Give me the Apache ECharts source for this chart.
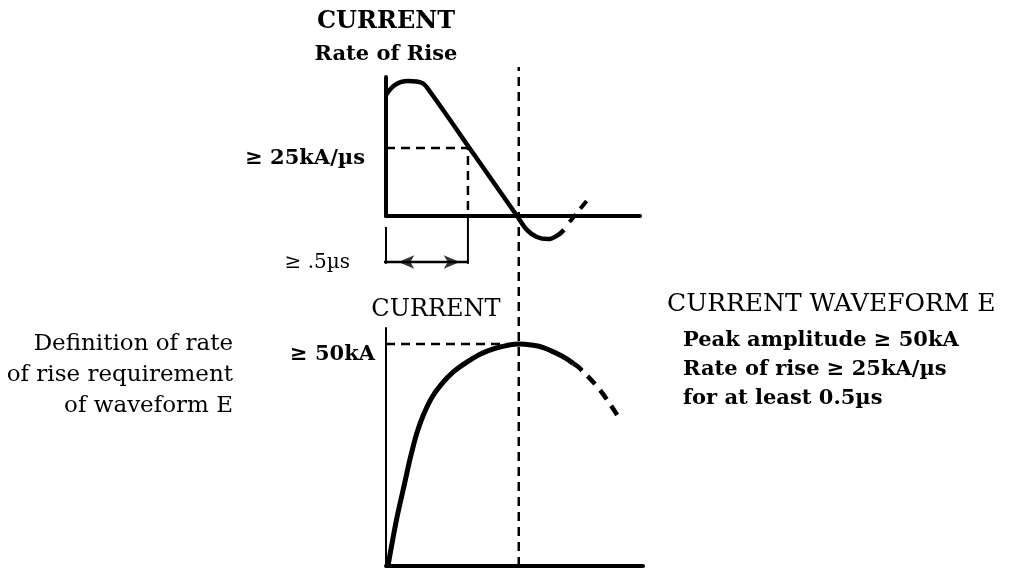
<!DOCTYPE html>
<html><head><meta charset="utf-8">
<script src="https://cdn.jsdelivr.net/npm/echarts@6/dist/echarts.min.js"></script>
<style>html,body{margin:0;padding:0;background:#fff}#c{width:1012px;height:570px}</style>
</head><body><div id="c"></div>
<script>
// ---- data (time in µs) ----
const rateCurve = [[0,44.5],[0.055,48.2],[0.134,49.6],[0.22,48.9],[0.27,45.6],[0.535,22.8],[0.8,0],[0.86,-5.1],[0.92,-7.7],[0.99,-8.5],[1.05,-7.0],[1.086,-5.1]];
const rateTail = [[1.12,-2.2],[1.245,7.0]];
const currentCurve = [[0.012,0],[0.065,10.6],[0.116,19.0],[0.146,24.0],[0.187,29.8],[0.228,34.0],[0.279,37.9],[0.34,41.0],[0.411,43.7],[0.493,45.9],[0.574,47.7],[0.665,49.0],[0.757,49.8],[0.81,50],[0.899,49.7],[0.96,49.2],[1.04,47.9],[1.10,46.7],[1.143,45.6]];
const currentTail = [[1.143,45.6],[1.18,44.6],[1.306,39.6],[1.41,34.0]];
const rateThreshold = 25;      // kA/µs
const minDuration = 0.5;       // µs
const peakAmp = 50;            // kA
const peakTime = 0.81;         // µs
const rateTickLabels = {25: '≥ 25kA/µs'};
const currentTickLabels = {50: '≥ 50kA'};
const durationLabel = '≥ .5µs';

const SERIF = '"DejaVu Serif", "Liberation Serif", serif';
const chart = echarts.init(document.getElementById('c'), null, {renderer: 'canvas'});
const dimY = -16.9, extY = -17.6, extTop = -4.0, vTop = 112.4, leadX = -0.19;

const dash = {color: '#000', width: 2.5, type: [9, 6]};
function line(name, data, gi, ls, extra) {
  return Object.assign({name, type: 'line', data, xAxisIndex: gi, yAxisIndex: gi, symbol: 'none',
    clip: false, silent: true, lineStyle: ls, animation: false, z: 3}, extra || {});
}
function axes(gi, xmax, ymax, lw, ylw, labels, margin) {
  return {
    x: {gridIndex: gi, type: 'value', min: 0, max: xmax, splitLine: {show: false},
        axisTick: {show: false}, axisLabel: {show: false},
        axisLine: {show: true, onZero: false, lineStyle: {color: '#000', width: lw}}},
    y: {gridIndex: gi, type: 'value', min: 0, max: ymax, interval: 25, splitLine: {show: false},
        axisTick: {show: false},
        axisLine: {show: true, onZero: false, lineStyle: {color: '#000', width: ylw}},
        axisLabel: {show: true, margin: margin, color: '#000', fontFamily: SERIF, fontWeight: 'bold', fontSize: 21,
          verticalAlign: 'top', showMinLabel: true, showMaxLabel: true,
          formatter: v => labels[v] || ''}}
  };
}
const a0 = axes(0, 1.55, 51.1, 4, 4, rateTickLabels, 21);
const a1 = axes(1, 1.568, 53.6, 4, 2, currentTickLabels, 11);

chart.setOption({
  backgroundColor: '#fff',
  animation: false,
  grid: [
    {left: 386, top: 77, width: 254, height: 139},
    {left: 386, top: 328, width: 257, height: 238}
  ],
  xAxis: [a0.x, a1.x],
  yAxis: [a0.y, a1.y],
  series: [
    line('rate', rateCurve, 0, {color: '#000', width: 4.5}, {smooth: 0.35}),
    line('rateTail', rateTail, 0, {color: '#000', width: 4, type: [10, 7]}),
    line('rateThreshold', [[0, rateThreshold], [minDuration, rateThreshold], [minDuration, 0]], 0, dash),
    line('durExt', [[minDuration, 0], [minDuration, extY]], 0, {color: '#000', width: 2}),
    line('durExtL', [[0, extTop], [0, extY]], 0, {color: '#000', width: 2}),
    line('durLead', [[leadX, dimY], [minDuration, dimY]], 0, {color: '#000', width: 2.5}),
    {name: 'arrows', type: 'scatter', xAxisIndex: 0, yAxisIndex: 0, clip: false, silent: true, animation: false,
      symbol: 'arrow', symbolSize: [10, 16], itemStyle: {color: '#000'}, z: 4,
      data: [{value: [0.075, dimY], symbolRotate: 90}, {value: [minDuration - 0.05, dimY], symbolRotate: -90}]},
    line('current', currentCurve, 1, {color: '#000', width: 5}, {smooth: 0.3}),
    line('currentTail', currentTail, 1, {color: '#000', width: 4.5, type: [11, 8]}, {smooth: 0.4}),
    line('peakLevel', [[0, peakAmp], [peakTime, peakAmp]], 1, dash),
    line('peakTime', [[peakTime, 0], [peakTime, vTop]], 1, dash)
  ],
  graphic: [
    {type: 'text', x: 386, y: 22, style: {text: 'CURRENT', font: 'bold 24px ' + SERIF, fill: '#000', textAlign: 'center', textVerticalAlign: 'middle'}},
    {type: 'text', x: 386, y: 55, style: {text: 'Rate of Rise', font: 'bold 21px ' + SERIF, fill: '#000', textAlign: 'center', textVerticalAlign: 'middle'}},
    {type: 'text', x: 350, y: 263, style: {text: durationLabel, font: '20px ' + SERIF, fill: '#000', textAlign: 'right', textVerticalAlign: 'middle'}},
    {type: 'text', x: 436, y: 310, style: {text: 'CURRENT', font: '24px ' + SERIF, fill: '#000', textAlign: 'center', textVerticalAlign: 'middle'}},
    {type: 'text', x: 233, y: 329, style: {text: 'Definition of rate\nof rise requirement\nof waveform E', font: '23px ' + SERIF, lineHeight: 31, fill: '#000', textAlign: 'right', textVerticalAlign: 'top'}},
    {type: 'text', x: 667, y: 304, style: {text: 'CURRENT WAVEFORM E', font: '25px ' + SERIF, fill: '#000', textAlign: 'left', textVerticalAlign: 'middle'}},
    {type: 'text', x: 683, y: 326, style: {text: 'Peak amplitude ≥ 50kA\nRate of rise ≥ 25kA/µs\nfor at least 0.5µs', font: 'bold 21px ' + SERIF, lineHeight: 29, fill: '#000', textAlign: 'left', textVerticalAlign: 'top'}}
  ]
});
</script></body></html>
